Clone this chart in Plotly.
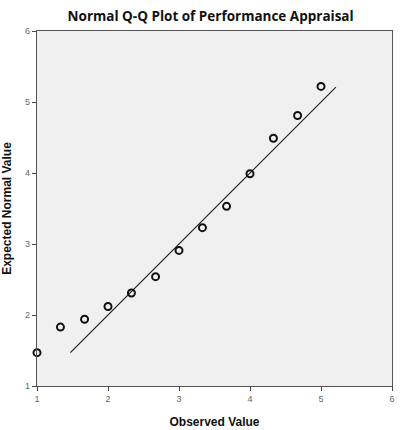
import plotly.graph_objects as go

# Observed values and their expected normal values
observed = [1.0, 1.33, 1.67, 2.0, 2.33, 2.67, 3.0, 3.33, 3.67, 4.0, 4.33, 4.67, 5.0]
expected = [1.47, 1.83, 1.94, 2.12, 2.31, 2.54, 2.91, 3.23, 3.53, 3.99, 4.49, 4.81, 5.22]

# Reference line (expected = observed) across the range of expected values
ref_line = [1.47, 5.21]

axis_ticks = [1, 2, 3, 4, 5, 6]

fig = go.Figure()
fig.add_trace(go.Scatter(
    x=ref_line, y=ref_line, mode="lines",
    line=dict(color="#222222", width=1.2),
    hoverinfo="skip", showlegend=False,
))
fig.add_trace(go.Scatter(
    x=observed, y=expected, mode="markers",
    marker=dict(symbol="circle-open", size=7, color="#111111",
                line=dict(width=2, color="#111111")),
    showlegend=False, cliponaxis=False,
))

axis_common = dict(
    range=[1, 6], tickvals=axis_ticks, ticktext=[str(t) for t in axis_ticks],
    ticks="outside", ticklen=4, tickwidth=1, tickcolor="#444444",
    showline=True, linecolor="#555555", linewidth=1.2, mirror=True,
    showgrid=False, zeroline=False, automargin=False,
    tickfont=dict(family="Liberation Sans", size=9, color="#666666"),
)

fig.update_layout(
    width=409, height=430,
    margin=dict(l=37, r=17, t=31, b=44),
    paper_bgcolor="white", plot_bgcolor="#F0F0F0",
    title=dict(text="<b>Normal Q-Q Plot of Performance Appraisal</b>",
               x=0.515, xanchor="center", y=0.962, yanchor="middle",
               automargin=False,
               font=dict(family="Open Sans", size=13.5, color="#111111")),
    xaxis=dict(axis_common,
               title=dict(text="<b>Observed Value</b>", standoff=14,
                          font=dict(family="Liberation Sans", size=12, color="#111111"))),
    yaxis=dict(axis_common,
               title=dict(text="<b>Expected Normal Value</b>", standoff=12,
                          font=dict(family="Liberation Sans", size=12, color="#111111"))),
)

fig.write_html("out.html")
